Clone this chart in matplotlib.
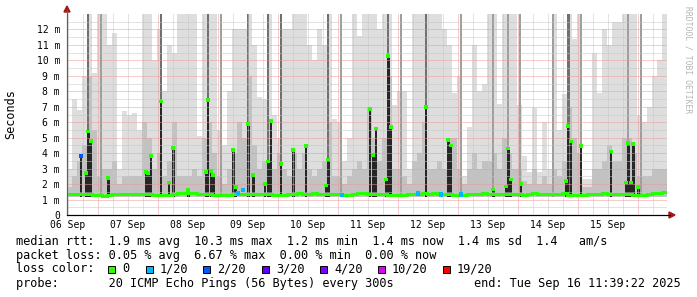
import numpy as np
import matplotlib
matplotlib.use("Agg")
from matplotlib import pyplot as plt
from matplotlib.patches import Rectangle, Polygon
from matplotlib.lines import Line2D
from matplotlib.ticker import FixedLocator

W, H = 697, 297
MONO = "DejaVu Sans Mono"

# smoke columns, 2 hours each, graph starts Sep 06 11:39:22
light_top = [
    3.0, 7.5, 6.8, 9.0, 13, 9.2, 13, 13, 11, 11.8, 3.0, 6.7, 6.5, 6.6, 5.5,
    13, 13, 10, 12, 8.0, 11, 10.5, 13, 13, 13, 13, 5.1, 13, 13, 13,
    5.5, 4.5, 8, 12, 12, 12, 13, 11, 7.6, 7.5, 13, 6.5, 5, 12, 12,
    13, 13, 13, 11, 10, 12, 11, 13, 6.2, 6, 3.5, 5, 13, 11.6, 13,
    13, 13, 12, 13, 13, 7.1, 8, 8, 3, 13, 13, 13, 13, 13, 13,
    12, 11, 7.9, 9, 2.5, 5.7, 11, 8, 8.5, 13, 13, 7.2, 13, 13, 13,
    7.1, 3.8, 2.8, 6.9, 2.8, 6.0, 3.0, 13, 5.5, 7.8, 13, 11.4, 13, 2.3, 2.3,
    10.5, 7.9, 12, 11, 12.5, 12.5, 13, 13, 13, 6.5, 6, 7, 9, 10, 13,
]
mid_top = [
    1.8, 2.5, 3.5, 4.5, 9.0, 5.5, 2.5, 3.0, 3.0, 3.5, 2.0, 2.5, 2.5, 2.5, 2.5,
    6.0, 5.0, 3.0, 4.0, 2.5, 3.5, 6.0, 2.5, 2.5, 2.5, 3.0, 2.5, 5.0, 6.0, 4.0,
    2.5, 2.0, 3.0, 4.0, 6.0, 5.0, 9.0, 4.5, 3.0, 3.5, 6.0, 3.0, 4.0, 3.0, 2.5,
    4.0, 3.0, 4.0, 3.0, 2.5, 3.0, 3.5, 6.0, 2.5, 2.5, 2.0, 2.5, 3.0, 3.5, 3.0,
    7.0, 5.0, 3.5, 5.0, 9.0, 3.0, 3.0, 2.5, 2.0, 3.5, 4.0, 6.0, 3.0, 3.0, 3.5,
    3.0, 5.0, 5.0, 3.0, 2.0, 3.0, 4.0, 3.0, 3.5, 3.5, 4.0, 3.0, 5.0, 4.0, 3.0,
    3.0, 2.2, 2.0, 3.0, 2.0, 2.5, 2.0, 3.0, 2.5, 3.5, 7.0, 5.0, 4.0, 1.8, 1.8,
    3.0, 3.0, 3.5, 4.5, 3.5, 3.5, 5.0, 5.0, 4.0, 2.5, 2.5, 2.5, 3.0, 3.0, 3.0,
]
median_base = [
    1.36, 1.36, 1.36, 1.36, 1.36, 1.30, 1.27, 1.26, 1.27, 1.34, 1.37, 1.37, 1.37, 1.37, 1.37,
    1.36, 1.33, 1.30, 1.28, 1.27, 1.30, 1.36, 1.42, 1.42, 1.40, 1.42, 1.36, 1.34, 1.33, 1.30,
    1.30, 1.30, 1.30, 1.33, 1.38, 1.36, 1.34, 1.38, 1.38, 1.36, 1.34, 1.30, 1.28, 1.28, 1.33,
    1.38, 1.40, 1.36, 1.38, 1.40, 1.36, 1.34, 1.36, 1.36, 1.33, 1.32, 1.28, 1.33, 1.40, 1.42,
    1.38, 1.36, 1.36, 1.36, 1.30, 1.28, 1.28, 1.30, 1.33, 1.36, 1.38, 1.40, 1.38, 1.40, 1.36,
    1.35, 1.34, 1.30, 1.27, 1.27, 1.33, 1.38, 1.38, 1.40, 1.38, 1.38, 1.38, 1.33, 1.34, 1.36,
    1.33, 1.28, 1.33, 1.40, 1.36, 1.34, 1.36, 1.38, 1.38, 1.40, 1.30, 1.30, 1.27, 1.27, 1.38,
    1.38, 1.36, 1.40, 1.34, 1.38, 1.38, 1.38, 1.36, 1.30, 1.27, 1.30, 1.36, 1.40, 1.44, 1.48,
]

# median spikes (hours after start, ms, lost pings of 20)
spike_hours = [5.5, 7.5, 8.5, 9.6, 16.5, 31.6, 32.5, 33.6, 37.5, 40.7, 42.5, 48.5,
               55.5, 56.3, 57.5, 58.5, 66.5, 67.5, 72.5, 74.5, 79.2, 80.5, 81.5,
               85.5, 90.5, 95.5, 103.5, 104.5, 121.2, 122.5, 123.5, 127.6, 128.5,
               129.6, 143.5, 152.5, 153.6, 170.5, 175.5, 176.5, 177.6, 181.5,
               199.5, 200.3, 201.6, 205.6, 217.6, 223.5, 224.5, 225.6, 226.5, 228.5]
spike_ms = [3.8, 2.7, 5.4, 4.8, 2.4, 2.8, 2.7, 3.8, 7.35, 2.1, 4.35, 1.6,
            2.8, 7.45, 2.85, 2.6, 4.2, 1.8, 5.9, 2.6, 2.0, 3.45, 6.1,
            3.3, 4.2, 4.45, 1.9, 3.6, 6.85, 3.9, 5.6, 2.3, 10.3,
            5.7, 7.0, 4.85, 4.5, 1.65, 1.85, 4.3, 2.3, 2.0,
            2.2, 5.75, 4.75, 4.45, 4.1, 2.1, 4.65, 2.1, 4.6, 1.8]
spike_loss = [2] + [0] * 51

# loss marks on the flat part of the median
loss_hours = [68.5, 70.5, 110.0, 140.5, 149.6, 157.6]
loss_ms = [1.44, 1.59, 1.30, 1.39, 1.33, 1.33]
loss_count = [1, 1, 1, 1, 1, 1]

# single samples whose max ping went off the top of the graph
tall_dark_hours = [8.4, 37.5, 56.4, 72.4, 80.4, 85.5, 104.4, 128.3, 143.5, 200.5]
tall_gray_hours = [13.6, 61.5, 109.6, 133.6, 157.6, 170.5, 176.5, 181.2, 194.5,
                   205.5, 224.5, 229.6]

day_labels = ["06 Sep", "07 Sep", "08 Sep", "09 Sep", "10 Sep",
              "11 Sep", "12 Sep", "13 Sep", "14 Sep", "15 Sep"]

loss_colors = {0: "#26ff00", 1: "#00b8ff", 2: "#0059ff", 3: "#5e00ff",
               4: "#7e00ff", 10: "#dd00ff", 19: "#ff0000"}
legend_keys = [0, 1, 2, 3, 4, 10, 19]

SPAN_H = 240.0
NOON0 = 0.344  # 12:00 on Sep 06, hours after start
FLOOR = 1.15   # fastest ping, bottom of the smoke

fig = plt.figure(figsize=(W / 100, H / 100), dpi=100)
fig.patch.set_facecolor("white")
ax = fig.add_axes([67 / W, 82 / H, 600 / W, 201 / H])

n_bins = len(light_top)
edges = np.arange(n_bins + 1) * 2.0
centers = edges[:-1] + 1.0

ax.bar(centers, np.array(light_top) - FLOOR, bottom=FLOOR, width=2.0,
       color="#dedede", linewidth=0, zorder=1)
ax.bar(centers, np.array(mid_top) - FLOOR, bottom=FLOOR, width=2.0,
       color="#c2c2c2", linewidth=0, zorder=1.1)
ax.bar(tall_gray_hours, 13 - FLOOR, bottom=FLOOR, width=0.8,
       color="#9e9e9e", linewidth=0, zorder=1.2)
ax.bar(tall_dark_hours, 13 - FLOOR, bottom=FLOOR, width=1.0,
       color="#707070", linewidth=0, zorder=1.25)
ax.bar(spike_hours, np.array(spike_ms) - FLOOR, bottom=FLOOR, width=1.0,
       color="#262626", linewidth=0, zorder=1.3)

# grid on top of the smoke like rrdtool
midnights = np.arange(NOON0 + 12, SPAN_H, 24)
six_hours = np.arange(NOON0, SPAN_H, 6)
ax.xaxis.set_major_locator(FixedLocator(midnights))
ax.xaxis.set_minor_locator(FixedLocator(six_hours))
ax.yaxis.set_major_locator(FixedLocator(np.arange(1, 13)))
ax.yaxis.set_minor_locator(FixedLocator(np.arange(0.5, 13, 0.5)))
ax.set_axisbelow(False)
ax.grid(which="minor", color="#c6c6c6", linestyle=(0, (1, 1)), linewidth=0.72)
ax.grid(which="major", color="#eb9a9a", linestyle=(0, (1, 1)), linewidth=0.72)

ax.stairs(median_base, edges, baseline=None, color=loss_colors[0],
          linewidth=2.2, zorder=3)
ax.scatter(spike_hours, spike_ms, marker="s", s=7, linewidths=0,
           c=[loss_colors[k] for k in spike_loss], zorder=4)
ax.scatter(loss_hours, loss_ms, marker="s", s=9, linewidths=0,
           c=[loss_colors[k] for k in loss_count], zorder=4)

ax.set_xlim(0, SPAN_H)
ax.set_ylim(0, 13)
ax.set_xticklabels([])
ax.set_yticks(range(13))
ax.set_yticklabels(["0"] + [f"{v} m" for v in range(1, 13)],
                   fontfamily=MONO, fontsize=7)
ax.tick_params(which="both", length=0)
ax.tick_params(axis="y", pad=5)
for s in ["top", "right"]:
    ax.spines[s].set_visible(False)
ax.spines["left"].set_color("#606060")
ax.spines["bottom"].set_color("#000000")
ax.spines["left"].set_linewidth(0.8)
ax.spines["bottom"].set_linewidth(0.8)

for i, lab in enumerate(day_labels):
    ax.text(NOON0 + 24 * i, -10 / 201, lab, transform=ax.get_xaxis_transform(),
            ha="center", va="center", fontfamily=MONO, fontsize=7)


def fx(x):
    return x / W


def fy(y):
    return 1 - y / H


# axis extensions and arrows
fig.add_artist(Line2D([fx(67), fx(67)], [fy(215), fy(10)], color="#606060", lw=0.8))
fig.add_artist(Line2D([fx(67), fx(670)], [fy(215), fy(215)], color="#000000", lw=0.8))
fig.add_artist(Polygon([[fx(67), fy(6)], [fx(64), fy(12)], [fx(70), fy(12)]],
                       closed=True, color="#a01818", transform=fig.transFigure))
fig.add_artist(Polygon([[fx(675), fy(215)], [fx(669), fy(212)], [fx(669), fy(218)]],
                       closed=True, color="#a01818", transform=fig.transFigure))

fig.text(fx(11), fy(114), "Seconds", rotation=90, ha="center", va="center",
         fontfamily=MONO, fontsize=8.5)
fig.text(fx(688), fy(60), "RRDTOOL / TOBI OETIKER", rotation=270, ha="center",
         va="center", fontfamily=MONO, fontsize=5.8, color="#b4b4b4")

rows = [
    (242, "median rtt:  1.9 ms avg  10.3 ms max  1.2 ms min  1.4 ms now  1.4 ms sd  1.4   am/s"),
    (255, "packet loss: 0.05 % avg  6.67 % max  0.00 % min  0.00 % now"),
    (269, "loss color:"),
    (283, "probe:       20 ICMP Echo Pings (56 Bytes) every 300s"),
]
for y, txt in rows:
    fig.text(fx(16), fy(y), txt, ha="left", va="center", fontfamily=MONO, fontsize=8.55)
fig.text(fx(681), fy(283), "end: Tue Sep 16 11:39:22 2025", ha="right", va="center",
         fontfamily=MONO, fontsize=8.55)

box_x = [108, 146, 203, 262, 320, 378, 443]
for bx, k in zip(box_x, legend_keys):
    fig.add_artist(Rectangle((fx(bx), fy(273)), 7 / W, 7 / H, transform=fig.transFigure,
                             facecolor=loss_colors[k], edgecolor="black", linewidth=0.7))
    lab = "0" if k == 0 else f"{k}/20"
    fig.text(fx(bx + 14), fy(269), lab, ha="left", va="center", fontfamily=MONO,
             fontsize=8.55)

fig.savefig("out.png", dpi=100)
